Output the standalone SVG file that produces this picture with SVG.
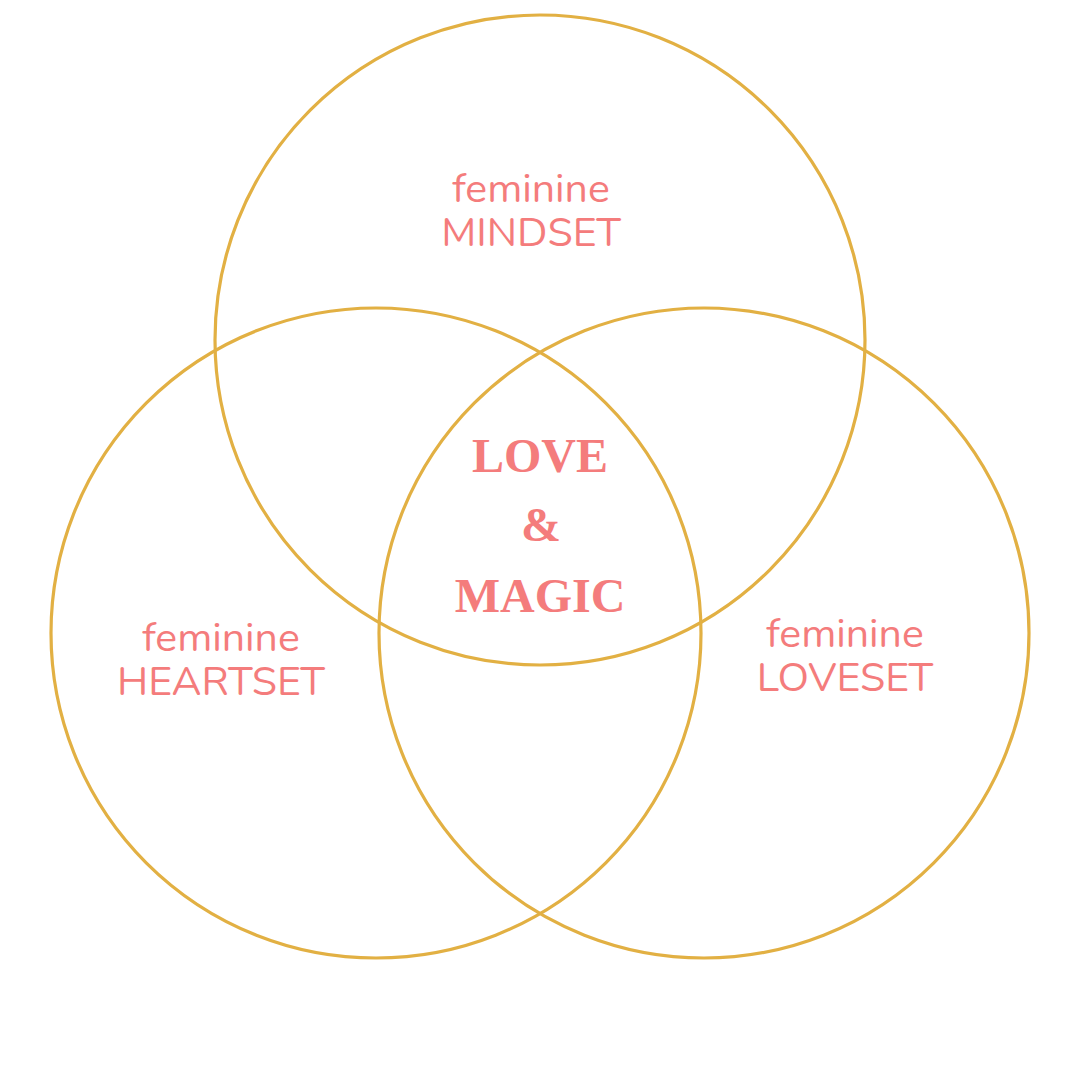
<svg xmlns="http://www.w3.org/2000/svg" width="1080" height="1080" viewBox="0 0 1080 1080">
<style>
.ring{fill:none;stroke:#E2B043;stroke-width:3.2}
.lbl{font-family:"Nunito","Lato","Open Sans",sans-serif;font-size:41px;fill:#F47C7C;text-anchor:middle}
.big{font-family:"Liberation Serif","DejaVu Serif",serif;font-weight:bold;font-size:48px;fill:#F47C7C;text-anchor:middle}
</style>
<rect width="1080" height="1080" fill="#FFFFFF"/>
<g id="circles">
<circle id="mindset-circle" class="ring" cx="540" cy="340" r="325"/>
<circle id="heartset-circle" class="ring" cx="376" cy="633" r="325"/>
<circle id="loveset-circle" class="ring" cx="704" cy="633" r="325"/>
</g>
<g id="mindset"><text class="lbl" x="531" y="202">feminine</text><text class="lbl" x="531" y="246">MINDSET</text></g>
<g id="heartset"><text class="lbl" x="221" y="651">feminine</text><text class="lbl" x="221" y="695">HEARTSET</text></g>
<g id="loveset"><text class="lbl" x="845" y="647">feminine</text><text class="lbl" x="845" y="691">LOVESET</text></g>
<g id="center"><text class="big" x="540" y="472">LOVE</text><text class="big" x="541" y="541">&amp;</text><text class="big" x="540" y="612">MAGIC</text></g>
</svg>
